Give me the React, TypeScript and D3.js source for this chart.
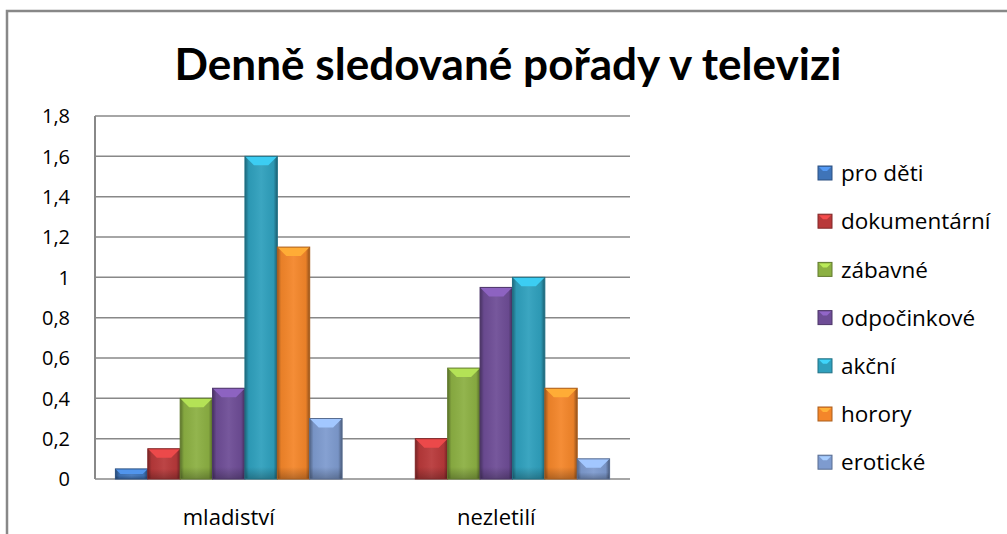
import { useEffect, useRef } from "react";
import * as d3 from "d3";

const categories = ["mladiství", "nezletilí"];
const seriesNames = [
  "pro děti",
  "dokumentární",
  "zábavné",
  "odpočinkové",
  "akční",
  "horory",
  "erotické",
];
const mladistvi = [0.05, 0.15, 0.4, 0.45, 1.6, 1.15, 0.3];
const nezletili = [0, 0.2, 0.55, 0.95, 1.0, 0.45, 0.1];
const seriesColors = [
  "#3f74b8",
  "#b8393a",
  "#8cb043",
  "#6e4d96",
  "#2fa0bd",
  "#f4862a",
  "#7e9bcf",
];
const yTicks = [0, 0.2, 0.4, 0.6, 0.8, 1, 1.2, 1.4, 1.6, 1.8];
const title = "Denně sledované pořady v televizi";

const TITLE_FONT = "Lato, 'Open Sans', sans-serif";
const FONT = "'Open Sans', Lato, sans-serif";

export default function App() {
  const svgRef = useRef<SVGSVGElement>(null);
  const width = 1007;
  const height = 534;

  useEffect(() => {
    if (!svgRef.current) return;
    const svg = d3.select(svgRef.current);
    svg.selectAll("*").remove();

    const values = [mladistvi, nezletili];
    const margin = { top: 116, left: 95, right: 377, bottom: 55 };
    const innerW = width - margin.left - margin.right;
    const innerH = height - margin.top - margin.bottom;

    const defs = svg.append("defs");
    const edge = defs
      .append("linearGradient")
      .attr("id", "edge")
      .attr("x1", 0)
      .attr("x2", 1)
      .attr("y1", 0)
      .attr("y2", 0);
    edge.append("stop").attr("offset", "0").attr("stop-color", "#000").attr("stop-opacity", 0.35);
    edge.append("stop").attr("offset", "0.12").attr("stop-color", "#000").attr("stop-opacity", 0.05);
    edge.append("stop").attr("offset", "0.5").attr("stop-color", "#fff").attr("stop-opacity", 0.06);
    edge.append("stop").attr("offset", "0.88").attr("stop-color", "#000").attr("stop-opacity", 0.05);
    edge.append("stop").attr("offset", "1").attr("stop-color", "#000").attr("stop-opacity", 0.4);

    const bottomShade = defs
      .append("linearGradient")
      .attr("id", "bottomShade")
      .attr("x1", 0)
      .attr("x2", 0)
      .attr("y1", 0)
      .attr("y2", 1);
    bottomShade.append("stop").attr("offset", "0").attr("stop-color", "#000").attr("stop-opacity", 0);
    bottomShade.append("stop").attr("offset", "1").attr("stop-color", "#000").attr("stop-opacity", 0.25);

    // outer chart border
    svg
      .append("rect")
      .attr("x", 7)
      .attr("y", 11)
      .attr("width", width + 20)
      .attr("height", height + 20)
      .attr("fill", "#fff")
      .attr("stroke", "#888")
      .attr("stroke-width", 2.5);

    svg
      .append("text")
      .attr("x", 508)
      .attr("y", 80)
      .attr("text-anchor", "middle")
      .attr("font-family", TITLE_FONT)
      .attr("font-weight", "bold")
      .attr("font-size", 43)
      .attr("textLength", 667)
      .attr("lengthAdjust", "spacingAndGlyphs")
      .attr("fill", "#000")
      .text(title);

    const g = svg
      .append("g")
      .attr("transform", `translate(${margin.left},${margin.top})`);

    const x0 = d3.scaleBand().domain(categories).range([0, innerW]);
    const x1 = d3
      .scaleBand()
      .domain(seriesNames)
      .range([0, x0.bandwidth()])
      .paddingOuter(0.63)
      .paddingInner(0);
    const y = d3.scaleLinear().domain([0, 1.8]).range([innerH, 0]);

    // gridlines
    g.selectAll(".grid")
      .data(yTicks)
      .enter()
      .append("line")
      .attr("x1", 0)
      .attr("x2", innerW)
      .attr("y1", (d) => y(d))
      .attr("y2", (d) => y(d))
      .attr("stroke", "#888")
      .attr("stroke-width", 1.5);

    g.append("line")
      .attr("x1", 0)
      .attr("x2", 0)
      .attr("y1", 0)
      .attr("y2", innerH)
      .attr("stroke", "#888")
      .attr("stroke-width", 2);

    g.selectAll(".ytick")
      .data(yTicks)
      .enter()
      .append("text")
      .attr("x", -25)
      .attr("y", (d) => y(d))
      .attr("dy", "0.36em")
      .attr("text-anchor", "end")
      .attr("font-family", FONT)
      .attr("font-size", 20)
      .attr("fill", "#000")
      .text((d) => d3.format("~g")(d).replace(".", ","));

    g.selectAll(".xlabel")
      .data(categories)
      .enter()
      .append("text")
      .attr("x", (d) => (x0(d) ?? 0) + x0.bandwidth() / 2)
      .attr("y", innerH + 46)
      .attr("text-anchor", "middle")
      .attr("font-family", FONT)
      .attr("font-size", 22)
      .attr("fill", "#000")
      .text((d) => d);

    categories.forEach((cat, ci) => {
      const grp = g.append("g").attr("transform", `translate(${x0(cat)},0)`);
      seriesNames.forEach((s, si) => {
        const v = values[ci][si];
        if (v <= 0) return;
        const bx = x1(s) ?? 0;
        const bw = x1.bandwidth();
        const by = y(v);
        const bh = innerH - by;
        const color = seriesColors[si];
        grp
          .append("rect")
          .attr("x", bx)
          .attr("y", by)
          .attr("width", bw)
          .attr("height", bh)
          .attr("fill", color);
        grp
          .append("rect")
          .attr("x", bx)
          .attr("y", by)
          .attr("width", bw)
          .attr("height", bh)
          .attr("fill", "url(#edge)");
        const shadeH = Math.min(12, bh / 3);
        grp
          .append("rect")
          .attr("x", bx)
          .attr("y", innerH - shadeH)
          .attr("width", bw)
          .attr("height", shadeH)
          .attr("fill", "url(#bottomShade)");
        const bev = Math.min(9, bh / 2);
        grp
          .append("polygon")
          .attr(
            "points",
            [
              [bx, by],
              [bx + bw, by],
              [bx + bw - bev, by + bev],
              [bx + bev, by + bev],
            ]
              .map((p) => p.join(","))
              .join(" ")
          )
          .attr("fill", d3.color(color)!.brighter(0.7).formatHex());
        grp
          .append("rect")
          .attr("x", bx)
          .attr("y", by)
          .attr("width", bw)
          .attr("height", bh)
          .attr("fill", "none")
          .attr("stroke", d3.color(color)!.darker(1).formatHex())
          .attr("stroke-width", 1);
      });
    });

    // legend
    const legend = svg.append("g").attr("transform", "translate(818,173)");
    seriesNames.forEach((s, i) => {
      const row = legend.append("g").attr("transform", `translate(0,${i * 48.2})`);
      const c = seriesColors[i];
      row
        .append("rect")
        .attr("x", 0)
        .attr("y", -7)
        .attr("width", 14)
        .attr("height", 14)
        .attr("fill", c)
        .attr("stroke", d3.color(c)!.darker(1).formatHex());
      row
        .append("polygon")
        .attr("points", "1,-6 13,-6 9,-2 5,-2")
        .attr("fill", d3.color(c)!.brighter(0.8).formatHex());
      row
        .append("text")
        .attr("x", 23)
        .attr("y", 0)
        .attr("dy", "0.36em")
        .attr("font-family", FONT)
        .attr("font-size", 22.5)
        .attr("fill", "#000")
        .text(s);
    });

    return () => {
      svg.selectAll("*").remove();
    };
  }, []);

  return (
    <svg
      ref={svgRef}
      width={width}
      height={height}
      style={{ position: "absolute", left: 0, top: 0 }}
    />
  );
}
